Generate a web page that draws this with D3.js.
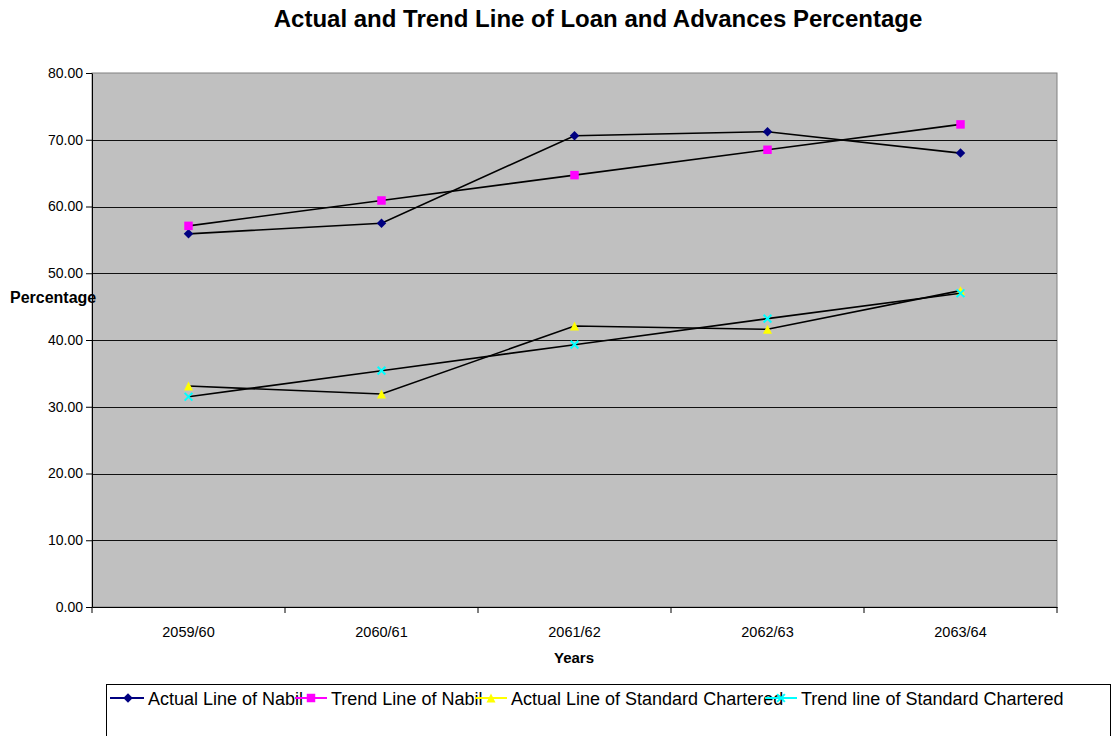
<!DOCTYPE html>
<html>
<head>
<meta charset="utf-8">
<script src="https://cdn.jsdelivr.net/npm/d3@7"></script>
<style>
  body { margin: 0; background: #fff; }
  svg { font-family: "Liberation Sans", Arial, sans-serif; }
</style>
</head>
<body>
<svg></svg>
<script>
let svgWidth = 1114;
let svgHeight = 736;

// data
let years = ["2059/60", "2060/61", "2061/62", "2062/63", "2063/64"];
let actualNabil = [55.9, 57.5, 70.6, 71.2, 68.0];
let trendNabil = [57.1, 60.9, 64.7, 68.5, 72.3];
let actualSC = [33.1, 31.9, 42.1, 41.6, 47.4];
let trendSC = [31.5, 35.4, 39.3, 43.2, 47.0];
let yTicks = [0, 10, 20, 30, 40, 50, 60, 70, 80];
let seriesNames = ["Actual Line of Nabil", "Trend Line of Nabil", "Actual Line of Standard Chartered", "Trend line of Standard Chartered"];

let margin = {left: 92, right: 1057, top: 73, bottom: 607};

// custom marker shapes
let diamond = {
    draw: function(ctx, size) {
        let r = Math.sqrt(size) / 2;
        ctx.moveTo(0, -r); ctx.lineTo(r, 0); ctx.lineTo(0, r); ctx.lineTo(-r, 0); ctx.closePath();
    }
};
let triangle = {
    draw: function(ctx, size) {
        let r = Math.sqrt(size) / 2;
        ctx.moveTo(0, -r); ctx.lineTo(r, r); ctx.lineTo(-r, r); ctx.closePath();
    }
};
let cross = {
    draw: function(ctx, size) {
        let r = Math.sqrt(size) / 2;
        ctx.moveTo(-r, -r); ctx.lineTo(r, r);
        ctx.moveTo(r, -r); ctx.lineTo(-r, r);
    }
};

let series = [
    {name: seriesNames[0], values: actualNabil, color: "#000080", shape: diamond, size: 90, filled: true},
    {name: seriesNames[1], values: trendNabil, color: "#FF00FF", shape: d3.symbolSquare, size: 72, filled: true},
    {name: seriesNames[2], values: actualSC, color: "#FFFF00", shape: triangle, size: 80, filled: true},
    {name: seriesNames[3], values: trendSC, color: "#00FFFF", shape: cross, size: 60, filled: false}
];

let svg = d3.select('svg').attr('width', svgWidth).attr('height', svgHeight);

let xScale = d3.scaleBand().domain(years).range([margin.left, margin.right]).padding(0);
let yScale = d3.scaleLinear().domain([0, 80]).range([margin.bottom, margin.top]);

// plot area
svg.append('rect')
    .attr('x', margin.left).attr('y', margin.top)
    .attr('width', margin.right - margin.left)
    .attr('height', margin.bottom - margin.top)
    .attr('fill', '#C0C0C0')
    .attr('stroke', '#808080')
    .attr('stroke-width', 1);

// gridlines
svg.append('g').selectAll('line')
    .data(yTicks.filter(d => d > 0 && d < 80))
    .enter().append('line')
    .attr('x1', margin.left).attr('x2', margin.right)
    .attr('y1', d => Math.round(yScale(d)) + 0.5)
    .attr('y2', d => Math.round(yScale(d)) + 0.5)
    .attr('stroke', '#111')
    .attr('stroke-width', 1);

let y_axis = d3.axisLeft(yScale).tickValues(yTicks)
    .tickFormat(d3.format(".2f"))
    .tickSizeInner(6)
    .tickSizeOuter(0)
    .tickPadding(3);
let yg = svg.append('g').attr('transform', 'translate(' + margin.left + ',0)').call(y_axis);
yg.selectAll('text').attr('font-size', 14).attr('fill', '#000').attr('font-family', '"Liberation Sans", Arial, sans-serif');
yg.selectAll('line, path').attr('stroke', '#000');

let x_axis = d3.axisBottom(xScale).tickSize(0).tickPadding(20);
let xg = svg.append('g').attr('transform', 'translate(0,' + margin.bottom + ')').call(x_axis);
xg.selectAll('text').attr('font-size', 14.5).attr('fill', '#000').attr('font-family', '"Liberation Sans", Arial, sans-serif');
xg.select('.domain').attr('stroke', '#000');
// tick marks on category boundaries
xg.selectAll('.bound')
    .data(years.concat(['end']))
    .enter().append('line')
    .attr('class', 'bound')
    .attr('x1', (d, i) => xScale.range()[0] + i * xScale.bandwidth())
    .attr('x2', (d, i) => xScale.range()[0] + i * xScale.bandwidth())
    .attr('y1', 0).attr('y2', 6)
    .attr('stroke', '#000');

// lines and markers
let lineFunction = d3.line()
    .x((d, i) => xScale(years[i]) + xScale.bandwidth() / 2)
    .y(d => yScale(d));

series.forEach(function(s) {
    let g = svg.append('g');
    g.append('path')
        .attr('d', lineFunction(s.values))
        .attr('fill', 'none')
        .attr('stroke', '#000')
        .attr('stroke-width', 1.6);
    g.selectAll('path.marker')
        .data(s.values)
        .enter().append('path')
        .attr('class', 'marker')
        .attr('transform', (d, i) => 'translate(' + (xScale(years[i]) + xScale.bandwidth() / 2) + ',' + yScale(d) + ')')
        .attr('d', d3.symbol().type(s.shape).size(s.size))
        .attr('fill', s.filled ? s.color : 'none')
        .attr('stroke', s.color)
        .attr('stroke-width', s.filled ? 0 : 2);
});

// titles
svg.append('text')
    .attr('x', 598).attr('y', 27)
    .attr('text-anchor', 'middle')
    .attr('font-size', 24).attr('font-weight', 'bold')
    .text("Actual and Trend Line of Loan and Advances Percentage");

svg.append('text')
    .attr('x', 574).attr('y', 663)
    .attr('text-anchor', 'middle')
    .attr('font-size', 15).attr('font-weight', 'bold')
    .text("Years");

svg.append('text')
    .attr('x', 10).attr('y', 303)
    .attr('font-size', 16).attr('font-weight', 'bold')
    .text("Percentage");

// legend
let legendX = [148, 331, 511, 801];
let legendY = 698;
svg.append('rect')
    .attr('x', 106.5).attr('y', 684.5)
    .attr('width', 1004).attr('height', 70)
    .attr('fill', '#fff')
    .attr('stroke', '#000');

let legend = svg.append('g');
series.forEach(function(s, i) {
    let lx = legendX[i];
    legend.append('line')
        .attr('x1', i === 0 ? 110 : lx - 36).attr('x2', lx - 4)
        .attr('y1', legendY).attr('y2', legendY)
        .attr('stroke', s.color).attr('stroke-width', 2);
    legend.append('path')
        .attr('transform', 'translate(' + (lx - 20) + ',' + legendY + ')')
        .attr('d', d3.symbol().type(s.shape).size(s.size))
        .attr('fill', s.filled ? s.color : 'none')
        .attr('stroke', s.color)
        .attr('stroke-width', s.filled ? 0 : 2);
    legend.append('text')
        .attr('x', lx).attr('y', legendY + 7)
        .attr('font-size', 18)
        .text(s.name);
});
</script>
</body>
</html>
